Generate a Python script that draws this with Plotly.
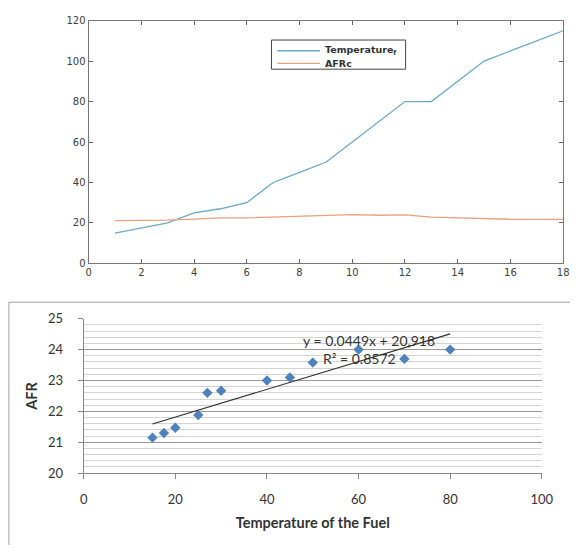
import plotly.graph_objects as go

# ---- top chart data ----
steps = list(range(1, 19))
temperature_f = [15, 17.5, 20, 25, 27, 30, 40, 45, 50, 60, 70, 80, 80, 90, 100, 105, 110, 115]
afr_c = [21.1, 21.2, 21.4, 21.9, 22.5, 22.5, 22.9, 23.0, 23.5, 24.1, 23.8, 24.0, 22.9, 22.5, 22.2, 21.8, 21.8, 21.8]
top_xticks = list(range(0, 19, 2))
top_yticks = list(range(0, 121, 20))
series_names = ["Temperature<sub>f</sub>", "AFRc"]
series_colors = ["#6aa8cc", "#eba07e"]

# ---- bottom chart data ----
fuel_temp = [15, 17.5, 20, 25, 27, 30, 40, 45, 50, 60, 70, 80]
afr = [21.15, 21.3, 21.47, 21.88, 22.6, 22.67, 23.0, 23.1, 23.58, 24.0, 23.7, 24.0]
slope = 0.0449
intercept = 20.918
r2_text = "R² = 0.8572"
eq_text = "y = 0.0449x + 20,918"
bot_xticks = [0, 20, 40, 60, 80, 100]
bot_yticks = [20, 21, 22, 23, 24, 25]

W, H = 582, 553
def px(x):
    return x / W
def py(y):
    return 1 - y / H

fig = go.Figure()

for yvals, nm, col in zip([temperature_f, afr_c], series_names, series_colors):
    fig.add_trace(go.Scatter(x=steps, y=yvals, mode="lines", name=nm, showlegend=False,
                             line=dict(color=col, width=1.3), xaxis="x", yaxis="y"))

fig.add_trace(go.Scatter(x=fuel_temp, y=afr, mode="markers", showlegend=False,
                         marker=dict(symbol="diamond", size=8, color="#4f81bd"),
                         xaxis="x2", yaxis="y2"))
trend_x = [min(fuel_temp), max(fuel_temp)]
trend_y = [slope * v + intercept for v in trend_x]
fig.add_trace(go.Scatter(x=trend_x, y=trend_y, mode="lines", showlegend=False,
                         line=dict(color="#303030", width=1.1), xaxis="x2", yaxis="y2"))

top_font = dict(family="DejaVu Sans", size=10, color="#404040")
tick_font = dict(family="Lato", size=13, color="#333333")
title_font = dict(family="Lato", size=14.5, color="#333333", weight="bold")

legend_shapes = [dict(type="rect", xref="paper", yref="paper",
                      x0=px(275), x1=px(413), y0=py(63), y1=py(33),
                      line=dict(color="#444", width=1), fillcolor="white")]
legend_annots = []
for i, (nm, col) in enumerate(zip(series_names, series_colors)):
    yy = 44 + i * 13
    legend_shapes.append(dict(type="line", xref="paper", yref="paper",
                              x0=px(281), x1=px(325), y0=py(yy), y1=py(yy),
                              line=dict(color=col, width=1.3)))
    legend_annots.append(dict(text=nm, x=px(328), y=py(yy), xref="paper", yref="paper",
                              xanchor="left", yanchor="middle", showarrow=False,
                              font=dict(family="DejaVu Sans", size=9.5, color="#333", weight="bold")))

fig.update_layout(
    width=W, height=H,
    margin=dict(l=0, r=0, t=0, b=0),
    paper_bgcolor="white", plot_bgcolor="white",
    showlegend=False,
    xaxis=dict(domain=[px(87), px(575)], range=[0, 18], tickvals=top_xticks,
               ticks="inside", ticklen=4, tickcolor="#666", showline=True, linecolor="#777",
               mirror="allticks", showgrid=False, zeroline=False, tickfont=top_font,
               anchor="y"),
    yaxis=dict(domain=[py(263), py(13)], range=[0, 120], tickvals=top_yticks,
               ticks="inside", ticklen=4, tickcolor="#666", showline=True, linecolor="#777",
               mirror="allticks", showgrid=False, zeroline=False, tickfont=top_font,
               anchor="x"),
    xaxis2=dict(domain=[px(82), px(553)], range=[0, 100], tickvals=bot_xticks,
                ticks="outside", ticklen=5, tickcolor="#888", showline=True, linecolor="#888",
                showgrid=False, zeroline=False, tickfont=tick_font, ticklabelstandoff=9,
                title=dict(text="Temperature of the Fuel", font=title_font, standoff=12),
                anchor="y2"),
    yaxis2=dict(domain=[py(479), py(320)], range=[20, 25], tickvals=bot_yticks,
                ticks="outside", ticklen=5, tickcolor="#888", showline=True, linecolor="#888",
                showgrid=True, gridcolor="#9a9a9a", gridwidth=1, zeroline=False,
                minor=dict(dtick=0.2, showgrid=True, gridcolor="#d4d4d4", gridwidth=1),
                tickfont=tick_font, ticklabelstandoff=12,
                title=dict(text="AFR", font=title_font, standoff=6),
                anchor="x2"),
    shapes=[
        dict(type="line", xref="paper", yref="paper",
             x0=px(5), x1=1, y0=py(303), y1=py(303),
             line=dict(color="#a0a0a0", width=1)),
        dict(type="line", xref="paper", yref="paper",
             x0=px(5), x1=px(5), y0=0, y1=py(303),
             line=dict(color="#a0a0a0", width=1)),
    ] + legend_shapes,
    annotations=[
        dict(text=eq_text, x=62.2, y=24.3, xref="x2", yref="y2", showarrow=False,
             font=dict(family="Lato", size=14, color="#333")),
        dict(text=r2_text, x=60.2, y=23.7, xref="x2", yref="y2", showarrow=False,
             font=dict(family="Lato", size=14, color="#333")),
    ] + legend_annots,
)

post = (
    "document.documentElement.style.overflow='hidden';"
    "document.body.style.margin='0';document.body.style.overflow='hidden';"
    "var gd=document.getElementById('{plot_id}');"
    "gd.style.overflow='hidden';gd.style.width='582px';gd.style.height='553px';"
    "var sc=gd.querySelector('.svg-container');if(sc){sc.style.overflow='hidden';}"
)
fig.write_html("out.html", config={"displayModeBar": False}, post_script=post)
